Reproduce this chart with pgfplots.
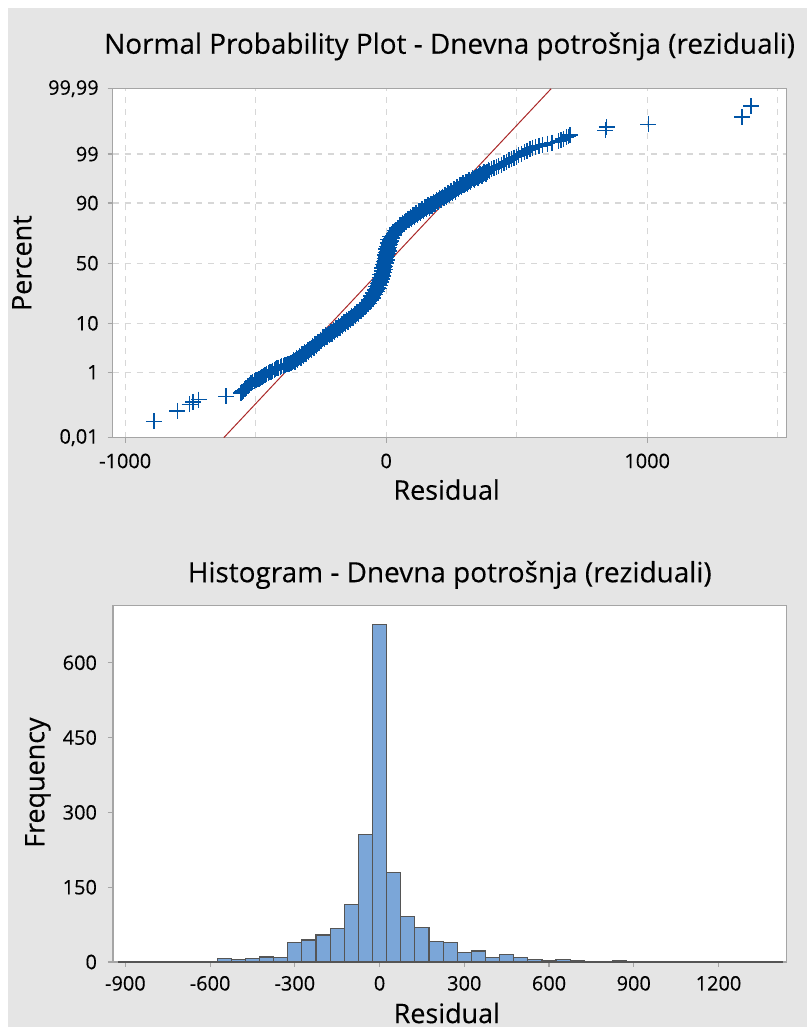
\documentclass[border=0pt]{standalone}
\usepackage{fontspec}
\setmainfont{Open Sans}[RawFeature={embolden=0.25}]
\usepackage{pgfplots}
\pgfplotsset{compat=1.18}
\definecolor{bg}{RGB}{229,229,229}
\definecolor{mblue}{RGB}{0,84,166}
\definecolor{fitred}{RGB}{170,40,40}
\definecolor{barfill}{RGB}{123,166,216}
\definecolor{baredge}{RGB}{85,85,85}
\definecolor{gridc}{RGB}{215,215,215}
\definecolor{axc}{RGB}{165,165,165}
\begin{document}
\begin{tikzpicture}
\fill[white] (0,0) rectangle (404.5pt,515pt);
\fill[bg] (4pt,0) rectangle (404.5pt,511pt);
\pgfplotsset{
  mystyle/.style={
    scale only axis,
    axis background/.style={fill=white},
    axis line style={axc, line width=0.6pt},
    tick style={axc, line width=0.6pt},
    tick align=outside,
    major tick length=2.5pt,
    minor tick length=0pt,
    xtick pos=bottom, ytick pos=left,
    tick label style={font=\fontsize{10}{12}\selectfont, text=black},
    label style={font=\fontsize{13.5}{16}\selectfont},
    title style={font=\fontsize{14}{17}\selectfont},
  }
}
% ---------------- Normal probability plot ----------------
\begin{axis}[mystyle,
  at={(56.5pt,295.5pt)}, anchor=south west,
  width=338pt, height=175pt,
  xmin=-1048, xmax=1534, ymin=-3.719, ymax=3.719,
  xtick={-1000,0,1000}, xticklabels={-1000,0,1000},
  minor xtick={-500,500,1500},
  ytick={-3.719,-2.326,-1.2816,0,1.2816,2.326,3.719},
  yticklabels={{0,01},1,10,50,90,99,{99,99}},
  xmajorgrids, xminorgrids, ymajorgrids,
  major grid style={gridc, dashed, line width=0.6pt},
  minor grid style={gridc, dashed, line width=0.6pt},
  xticklabel style={yshift=-2pt},
  yticklabel style={xshift=-1pt},
  title={Normal Probability Plot - Dnevna potrošnja (reziduali)},
  title style={at={(axis description cs:0.5,1.087)}, anchor=center},
  xlabel={Residual},
  xlabel style={at={(axis description cs:0.4956,-0.149)}, anchor=center},
  ylabel={Percent},
  ylabel style={at={(axis description cs:-0.1346,0.5)}, anchor=center},
]
\addplot[fitred, line width=0.5pt] coordinates {(-622,-3.719) (632,3.719)};
\addplot[only marks, mark=+, mark size=4pt, mblue, mark options={line width=0.7pt}] coordinates {
(-890,-3.37) (-800,-3.15) (-753,-3.01) (-740,-2.96) (-718,-2.91) (-613,-2.84)
(-557,-2.77) (-551,-2.74) (-547,-2.72) (-541,-2.69) (-537,-2.67) (-530,-2.62)
(-524,-2.59) (-518,-2.56) (-512,-2.54)
(-505,-2.52) (-499,-2.50) (-493,-2.48) (-488,-2.46) (-482,-2.44) (-476,-2.42)
(-470,-2.40) (-464,-2.38) (-458,-2.36) (-452,-2.35) (-447,-2.33) (-441,-2.31)
(-435,-2.29) (-429,-2.27) (-423,-2.26) (-418,-2.24) (-412,-2.23) (-406,-2.21)
(-400,-2.20) (-394,-2.19) (-388,-2.17) (-382,-2.16) (-376,-2.15) (-371,-2.14) (-365,-2.12)
(-359,-2.11) (-353,-2.09) (-347,-2.07) (-342,-2.04) (-336,-2.02)
(-330,-2.00) (-325,-1.98) (-320,-1.96) (-315,-1.94) (-310,-1.92) (-305,-1.90)
(-300,-1.88) (-295,-1.86) (-290,-1.83) (-285,-1.81) (-280,-1.79) (-275,-1.76)
(-270,-1.74) (-265,-1.72) (-260,-1.69) (-255,-1.67) (-250,-1.65) (-245,-1.62)
(-240,-1.60) (-235,-1.58) (-230,-1.56) (-225,-1.54) (-220,-1.52) (-215,-1.50)
(-210,-1.48) (-205,-1.46) (-200,-1.44) (-195,-1.42) (-190,-1.40) (-185,-1.38)
(-180,-1.36) (-175,-1.34) (-170,-1.32) (-165,-1.30) (-160,-1.28) (-155,-1.26)
(-150,-1.24) (-145,-1.22) (-140,-1.20) (-135,-1.17) (-130,-1.15) (-125,-1.13)
(-120,-1.11) (-115,-1.09) (-110,-1.06) (-105,-1.04) (-100,-1.01) (-95,-0.99)
(-90,-0.96) (-85,-0.93) (-80,-0.90) (-75,-0.88) (-70,-0.85)
(-65,-0.82) (-61,-0.79) (-57,-0.76) (-53,-0.72) (-49,-0.69)
(-45,-0.66) (-42,-0.62) (-39,-0.59) (-36,-0.55) (-33,-0.52)
(-30,-0.48) (-28,-0.45) (-26,-0.42) (-24,-0.38) (-22,-0.35)
(-20,-0.32) (-18,-0.29) (-17,-0.25) (-15,-0.22) (-13,-0.18)
(-12,-0.15) (-11,-0.12) (-9,-0.08) (-8,-0.05) (-6,-0.01)
(-5,0.02) (-4,0.05) (-2,0.08) (-1,0.12) (1,0.15)
(2,0.18) (3,0.21) (4,0.24) (6,0.28) (7,0.31)
(8,0.34) (10,0.38) (12,0.41) (13,0.45)
(15,0.48) (18,0.52) (21,0.55) (25,0.59)
(28,0.62) (32,0.65) (36,0.68) (41,0.71)
(45,0.74) (50,0.77) (55,0.79) (60,0.82) (65,0.84)
(70,0.87) (75,0.89) (80,0.91) (85,0.93) (90,0.95) (95,0.97)
(100,0.99) (106,1.01) (111,1.03) (117,1.05) (123,1.07) (129,1.09) (134,1.11)
(140,1.13) (146,1.15) (151,1.17) (157,1.19) (162,1.21) (168,1.22) (173,1.24) (179,1.26) (184,1.28)
(190,1.30) (196,1.32) (201,1.34) (207,1.36) (212,1.38) (218,1.40) (223,1.42) (229,1.44) (234,1.46)
(240,1.48) (246,1.50) (251,1.52) (257,1.54) (263,1.56) (269,1.58) (274,1.60)
(280,1.62) (286,1.64) (291,1.66) (297,1.68) (303,1.69) (309,1.71) (314,1.73)
(320,1.75) (327,1.77) (334,1.79) (341,1.82) (348,1.84)
(355,1.86) (363,1.88) (371,1.90) (379,1.93) (387,1.95)
(395,1.97) (404,2.00) (413,2.02) (422,2.05)
(431,2.07) (441,2.10) (451,2.13) (460,2.16)
(470,2.19) (480,2.22) (489,2.25) (499,2.27)
(508,2.30) (519,2.33) (530,2.37)
(540,2.40) (551,2.43) (561,2.46)
(571,2.48) (585,2.50) (600,2.52) (617,2.55)
(635,2.57) (660,2.60) (670,2.62) (679,2.65) (690,2.68) (698,2.70) (705,2.73)
(840,2.83) (845,2.90) (1004,2.96) (1364,3.12) (1398,3.35)
(-356,-2.07) (-350,-2.11) (-344,-2.02) (-339,-2.06) (-333,-1.98) (-327,-2.02)
(-322,-1.94) (-317,-1.98) (-312,-1.90) (-307,-1.94) (-302,-1.86)
(-297,-1.90) (-292,-1.82) (-287,-1.85) (-282,-1.77) (-277,-1.81) (-272,-1.72)
(-267,-1.76) (-262,-1.68) (-257,-1.71) (-252,-1.63) (-247,-1.67) (-242,-1.58)
(-237,-1.62) (-232,-1.54) (-227,-1.58) (-222,-1.50) (-217,-1.54) (-212,-1.46)
(-207,-1.50) (-202,-1.42) (-197,-1.46) (-192,-1.38) (-187,-1.42) (-182,-1.34)
(-177,-1.38) (-172,-1.30) (-167,-1.34) (-162,-1.26) (-157,-1.30) (-152,-1.22)
(-147,-1.26) (-142,-1.18) (-137,-1.21) (-132,-1.13) (-127,-1.17) (-122,-1.09)
(-117,-1.13) (-112,-1.05) (-107,-1.08) (-102,-0.99) (-97,-1.03) (-92,-0.94)
(-87,-0.98) (-82,-0.89) (-77,-0.92) (-72,-0.84) (-67,-0.86)
(-57,-0.80) (-65,-0.77) (-49,-0.74) (-57,-0.70) (-41,-0.67) (-49,-0.64)
(-34,-0.61) (-42,-0.57) (-29,-0.54) (-38,-0.50) (-23,-0.47) (-33,-0.43)
(-19,-0.40) (-29,-0.37) (-15,-0.34) (-25,-0.30) (-12,-0.27) (-22,-0.24)
(-10,-0.20) (-18,-0.17) (-6,-0.14) (-16,-0.10) (-3,-0.07) (-13,-0.03)
(0,0.00) (-10,0.04) (3,0.07) (-6,0.10) (5,0.14) (-4,0.17) (8,0.20) (-2,0.23)
(10,0.26) (1,0.30) (12,0.33) (3,0.36) (15,0.40) (6,0.43) (17,0.47) (8,0.50)
(22,0.53) (16,0.57)
(30,0.60) (34,0.69) (39,0.67) (43,0.75) (48,0.73) (53,0.81) (58,0.78) (63,0.86)
(68,0.83) (73,0.91) (78,0.87) (83,0.95) (88,0.91) (93,0.99) (98,0.95) (103,1.03)
(109,0.99) (114,1.07) (120,1.03) (126,1.11) (132,1.07) (137,1.15) (143,1.11)
(149,1.19) (154,1.15) (160,1.23) (165,1.18) (171,1.26) (176,1.22) (182,1.30)
(187,1.26) (193,1.34) (199,1.30) (204,1.38) (210,1.34) (215,1.42) (221,1.38)
(226,1.46) (232,1.42) (237,1.50) (243,1.46) (249,1.54) (254,1.50) (260,1.58)
(266,1.52) (272,1.62) (277,1.58) (283,1.66) (289,1.62) (294,1.70) (300,1.66)
(306,1.73) (312,1.69) (317,1.77) (324,1.73) (331,1.81) (338,1.77) (345,1.86)
(352,1.82) (359,1.90) (367,1.86) (375,1.94) (383,1.91) (391,1.99)
};
\end{axis}
% ---------------- Histogram ----------------
\begin{axis}[mystyle,
  at={(56.65pt,32.5pt)}, anchor=south west,
  width=337.85pt, height=178.85pt,
  xmin=-944, xmax=1441, ymin=0, ymax=715,
  xtick={-900,-600,-300,0,300,600,900,1200},
  xticklabels={-900,-600,-300,0,300,600,900,1200},
  ytick={0,150,300,450,600},
  yticklabels={0,150,300,450,600},
  xticklabel style={yshift=-1pt},
  yticklabel style={xshift=-2pt},
  title={Histogram - Dnevna potrošnja (reziduali)},
  title style={at={(axis description cs:0.5,1.052)}, anchor=center},
  xlabel={Residual},
  xlabel style={at={(axis description cs:0.4956,-0.143)}, anchor=center},
  ylabel={Frequency},
  ylabel style={at={(axis description cs:-0.1114,0.503)}, anchor=center},
]
\addplot[ybar interval, fill=barfill, draw=baredge, line width=0.6pt] coordinates {
(-925,1) (-875,0) (-825,1) (-775,1) (-725,1) (-675,0) (-625,1) (-575,7)
(-525,5) (-475,7) (-425,10) (-375,9) (-325,39) (-275,44) (-225,54)
(-175,67) (-125,116) (-75,256) (-25,677) (25,179) (75,91) (125,69)
(175,41) (225,39) (275,19) (325,22) (375,9) (425,15) (475,9) (525,5)
(575,3) (625,5) (675,3) (725,0) (775,0) (825,2) (875,0) (925,0)
(975,1) (1025,0) (1075,0) (1125,0) (1175,0) (1225,0) (1275,0) (1325,1)
(1375,1) (1425,1)
};
\end{axis}
\end{tikzpicture}
\end{document}
